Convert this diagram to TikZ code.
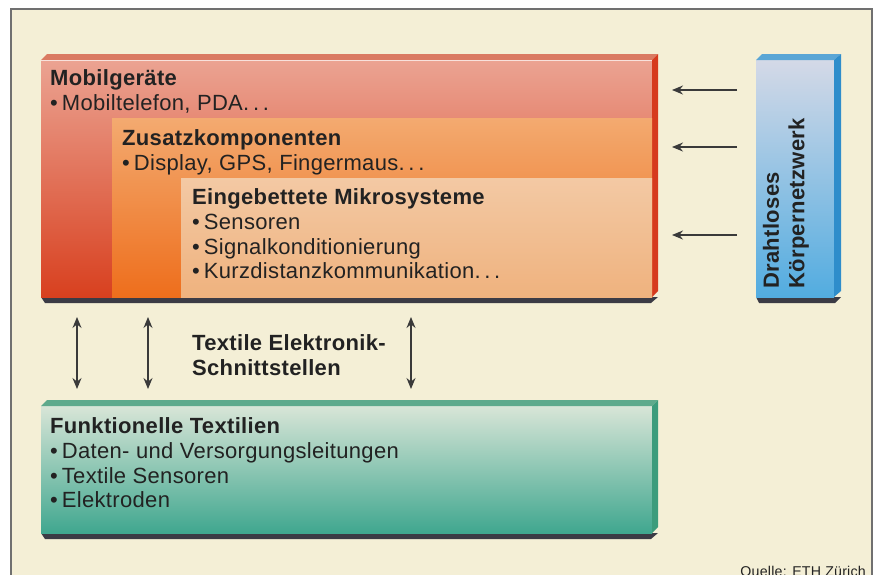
\documentclass[tikz,border=0pt]{standalone}
\usepackage{fontspec}
\setmainfont{Liberation Sans}[LetterSpace=1.5]
\usetikzlibrary{arrows.meta}
\definecolor{cream}{HTML}{F4EFD6}
\definecolor{frameline}{HTML}{707070}
\definecolor{txt}{HTML}{222222}
\definecolor{shad}{HTML}{3B3B45}
\definecolor{redtop}{HTML}{EBA392}
\definecolor{redbot}{HTML}{D8401F}
\definecolor{redside}{HTML}{D63A1E}
\definecolor{redface}{HTML}{DA7A62}
\definecolor{orangetop}{HTML}{F3AA70}
\definecolor{orangebot}{HTML}{EE6E1C}
\definecolor{peachtop}{HTML}{F3C9A4}
\definecolor{peachbot}{HTML}{EFB27E}
\definecolor{bluetop}{HTML}{D4D9E7}
\definecolor{bluebot}{HTML}{52ACE0}
\definecolor{blueside}{HTML}{2E8DCB}
\definecolor{blueface}{HTML}{5AA6D6}
\definecolor{greentop}{HTML}{D8E5D7}
\definecolor{greenbot}{HTML}{40A78F}
\definecolor{greenside}{HTML}{3C9C7C}
\definecolor{greenface}{HTML}{5EAA8C}
\definecolor{arrowc}{HTML}{3A3A3A}
\tikzset{
  ttl/.style={anchor=base west, inner sep=0pt, text=txt, font=\fontsize{22}{25}\selectfont\bfseries},
  itm/.style={anchor=base west, inner sep=0pt, text=txt, font=\fontsize{22}{25}\selectfont},
  conn/.style={draw=arrowc, line width=1.3pt, -{Stealth[length=11pt,width=9pt]}},
  dconn/.style={draw=arrowc, line width=1.3pt, {Stealth[length=11pt,width=9pt]}-{Stealth[length=11pt,width=9pt]}},
  shadowbar/.style={fill=shad, draw=none},
}
\newcommand{\bul}{\textbullet\hspace{4pt}}
\begin{document}
\begin{tikzpicture}[x=1pt,y=-1pt]
\useasboundingbox (0,0) rectangle (876,574);
\fill[white] (0,0) rectangle (876,574);
\fill[cream] (11,9) rectangle (872,590);
\draw[frameline, line width=1.4pt] (11,590) -- (11,9) -- (872,9) -- (872,590);

% ---- red block (Mobilgeraete)
\fill[shadowbar] (41,297) -- (658,297) -- (651,303) -- (45,303) -- cycle;
\shade[top color=redtop, bottom color=redbot] (41,60) rectangle (652,297);
\fill[redface] (41,60) -- (47,54) -- (658,54) -- (652,60) -- cycle;
\fill[redside] (652,60) -- (658,54) -- (658,291) -- (652,297) -- cycle;
\draw[white, opacity=0.7, line width=0.8pt] (41,60.5) -- (652,60.5);
\shade[top color=orangetop, bottom color=orangebot] (112,118) rectangle (652,297);
\shade[top color=peachtop, bottom color=peachbot] (181,178) rectangle (652,297);

\node[ttl] (mob) at (50,85) {Mobilgeräte};
\node[itm] (mob1) at (50,110) {\bul Mobiltelefon, PDA.\,.\,.};
\node[ttl] (zus) at (122,145) {Zusatzkomponenten};
\node[itm] (zus1) at (122,170) {\bul Display, GPS, Fingermaus.\,.\,.};
\node[ttl] (emb) at (192,204) {Eingebettete Mikrosysteme};
\node[itm] (emb1) at (192,229) {\bul Sensoren};
\node[itm] (emb2) at (192,254) {\bul Signalkonditionierung};
\node[itm] (emb3) at (192,278) {\bul Kurzdistanzkommunikation.\,.\,.};

% ---- blue bar
\fill[shadowbar] (756,297) -- (841,297) -- (835,303) -- (759,303) -- cycle;
\shade[top color=bluetop, bottom color=bluebot] (756,60) rectangle (834,297);
\fill[blueface] (756,60) -- (762,54) -- (841,54) -- (834,60) -- cycle;
\fill[blueside] (834,60) -- (841,54) -- (841,291) -- (834,297) -- cycle;
\node[rotate=90, anchor=west, inner sep=0pt, align=left, text=txt,
      font=\fontsize{22}{25.5}\selectfont\bfseries] (wbn) at (786,289)
      {Drahtloses\\Körpernetzwerk};

% ---- horizontal arrows
\coordinate (a1s) at (737,90);  \coordinate (a1e) at (672,90);
\coordinate (a2s) at (737,147); \coordinate (a2e) at (672,147);
\coordinate (a3s) at (737,235); \coordinate (a3e) at (672,235);
\draw[conn] (a1s) -- (a1e);
\draw[conn] (a2s) -- (a2e);
\draw[conn] (a3s) -- (a3e);

% ---- vertical double arrows
\coordinate (v1t) at (77,317);  \coordinate (v1b) at (77,389);
\coordinate (v2t) at (148,317); \coordinate (v2b) at (148,389);
\coordinate (v3t) at (411,317); \coordinate (v3b) at (411,389);
\draw[dconn] (v1t) -- (v1b);
\draw[dconn] (v2t) -- (v2b);
\draw[dconn] (v3t) -- (v3b);
\node[ttl] (tes1) at (192,350) {Textile Elektronik-};
\node[ttl] (tes2) at (192,375) {Schnittstellen};

% ---- green block
\fill[shadowbar] (41,533) -- (658,533) -- (651,539) -- (45,539) -- cycle;
\shade[top color=greentop, bottom color=greenbot] (41,406) rectangle (652,533);
\fill[greenface] (41,406) -- (47,400) -- (658,400) -- (652,406) -- cycle;
\fill[greenside] (652,406) -- (658,400) -- (658,527) -- (652,533) -- cycle;
\node[ttl] (fun) at (50,433) {Funktionelle Textilien};
\node[itm] (fun1) at (50,458) {\bul Daten- und Versorgungsleitungen};
\node[itm] (fun2) at (50,483) {\bul Textile Sensoren};
\node[itm] (fun3) at (50,507) {\bul Elektroden};

% ---- source
\node[anchor=base east, inner sep=0pt, text=txt, font=\fontsize{14.2}{16}\selectfont] (src) at (866,576) {Quelle: ETH Zürich};
\end{tikzpicture}
\end{document}
